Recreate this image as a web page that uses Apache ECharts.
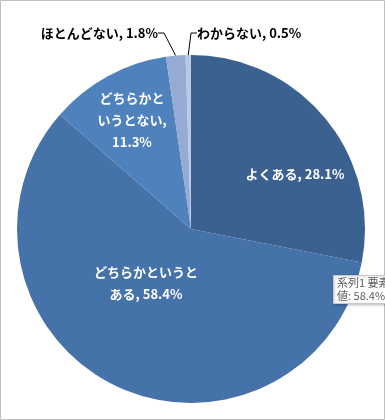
<!DOCTYPE html>
<html><head><meta charset="utf-8">
<script src="https://cdn.jsdelivr.net/npm/echarts@6/dist/echarts.min.js"></script>
<style>html,body{margin:0;padding:0;background:#fff}#c{width:385px;height:420px}</style>
</head><body><div id="c"></div>
<script>
const categories = ['よくある', 'どちらかというとある', 'どちらかというとない', 'ほとんどない', 'わからない'];
const labelTexts = ['よくある, 28.1%', 'どちらかというと\nある, 58.4%', 'どちらかと\nいうとない,\n11.3%', 'ほとんどない, 1.8%', 'わからない, 0.5%'];
const values = [28.1, 58.4, 11.3, 1.8, 0.5];
const colors = ['#3b6191', '#4572a9', '#4f81bd', '#95abd3', '#bac8e5'];
const labelPos = [
  {x: 295, y: 174, align: 'center'},
  {x: 146, y: 283, align: 'center'},
  {x: 132, y: 120, align: 'center'},
  {x: 158, y: 33, align: 'right'},
  {x: 197, y: 33, align: 'left'}
];
const font = '"Noto Sans CJK JP", "Noto Sans", sans-serif';
const chart = echarts.init(document.getElementById('c'));
chart.setOption({
  animation: false,
  graphic: {
    z: 100,
    zlevel: 0,
    elements: [
      {type: 'rect', shape: {x: 0.5, y: 0.5, width: 384, height: 419}, style: {fill: 'none', stroke: '#bfbfbf', lineWidth: 1}, z: 100},
      {type: 'group', x: 333, y: 275, z: 100, children: [
        {type: 'rect', z: 100, shape: {x: 0.5, y: 0.5, width: 60, height: 28}, style: {fill: '#ffffff', stroke: '#c8c8c8', lineWidth: 1, shadowBlur: 3, shadowColor: 'rgba(0,0,0,0.25)', shadowOffsetX: 1, shadowOffsetY: 1}},
        {type: 'text', z: 101, x: 4, y: 2, style: {text: '系列1 要素', fill: '#5a5a5a', font: '11px ' + font}},
        {type: 'text', z: 101, x: 4, y: 15, style: {text: '値: 58.4%', fill: '#5a5a5a', font: '11px ' + font}}
      ]}
    ]
  },
  series: [{
    type: 'pie',
    z: 2,
    center: [191, 229],
    radius: 174,
    startAngle: 90,
    clockwise: true,
    avoidLabelOverlap: false,
    label: {
      show: true,
      fontFamily: font,
      fontWeight: 'bold',
      fontSize: 13,
      lineHeight: 22,
      formatter: p => labelTexts[p.dataIndex]
    },
    labelLine: {show: false},
    labelLayout: p => Object.assign({verticalAlign: 'middle'}, labelPos[p.dataIndex]),
    data: categories.map((c, i) => {
      const outside = i >= 3;
      return {
        name: c,
        value: values[i],
        itemStyle: {color: colors[i]},
        label: outside ? {position: 'outside', color: '#000000'} : {position: 'inside', color: '#ffffff', align: 'center'},
        labelLine: outside ? {show: true, length: 12, length2: 6, lineStyle: {color: '#000000', width: 1}} : {show: false}
      };
    })
  }]
});
</script></body></html>
